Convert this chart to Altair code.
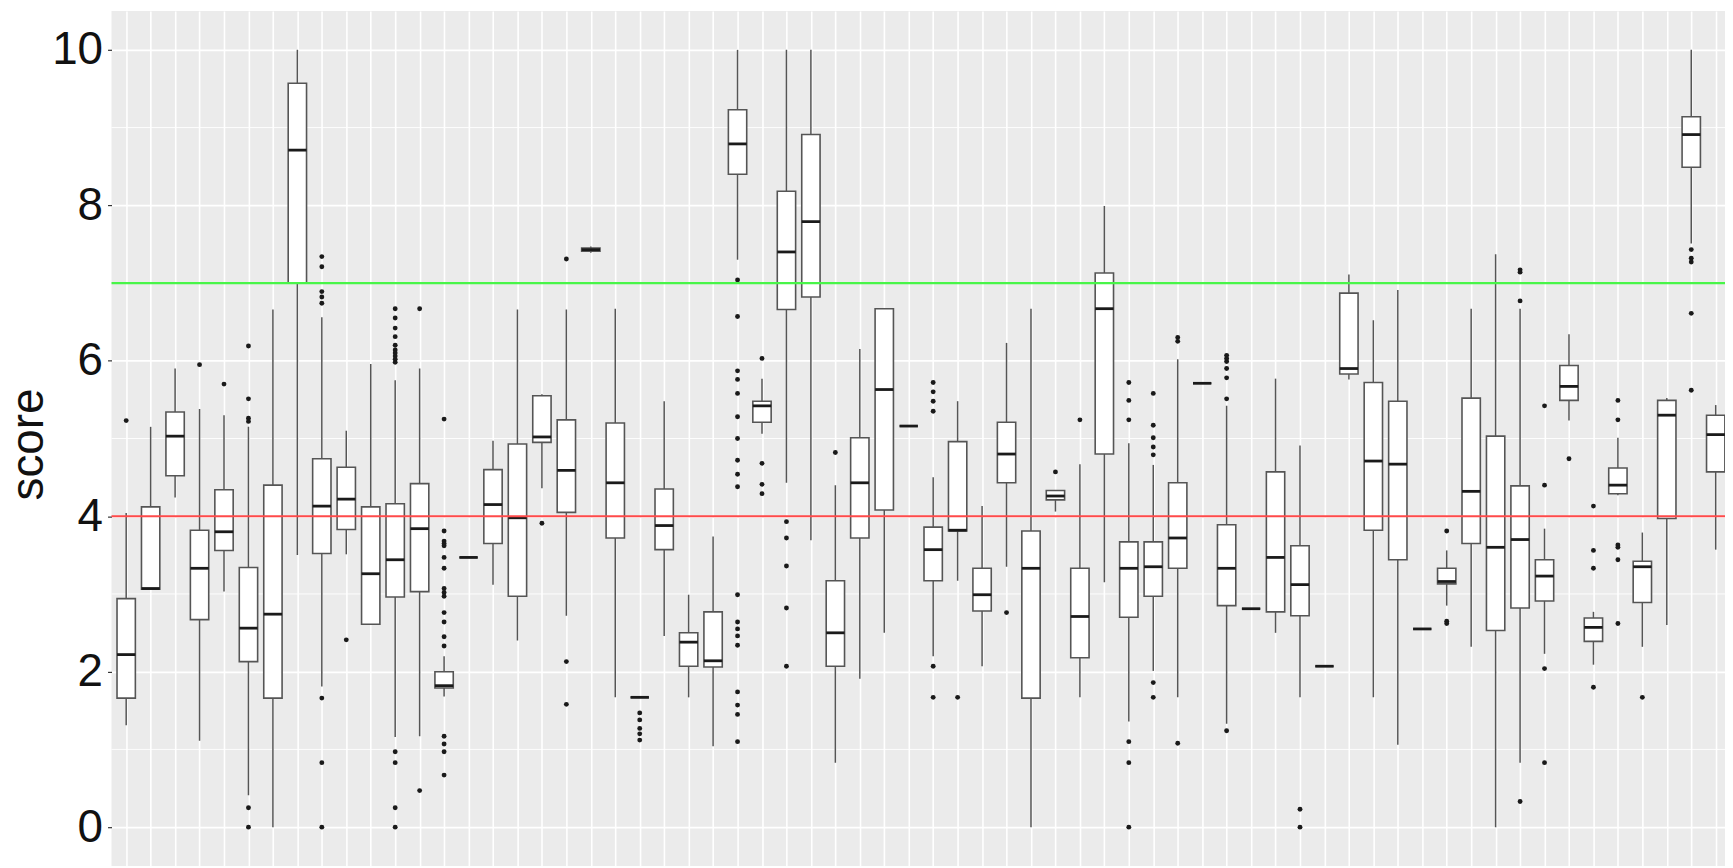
import altair as alt
import pandas as pd

# ---- data ----
groups = list(range(1, 67))

q1 = [1.66, 3.06, 4.52, 2.67, 3.56, 2.13, 1.66, 7.00, 3.52, 3.83,
      2.61, 2.96, 3.03, 1.79, 3.47, 3.65, 2.97, 4.95, 4.05, 7.41,
      3.72, 1.67, 3.57, 2.07, 2.06, 8.40, 5.21, 6.66, 6.82, 2.07,
      3.72, 4.08, 5.16, 3.17, 3.81, 2.78, 4.43, 1.66, 4.21, 2.18,
      4.80, 2.70, 2.97, 3.33, 5.71, 2.85, 2.81, 2.77, 2.72, 2.07,
      5.83, 3.82, 3.44, 2.55, 3.13, 3.65, 2.53, 2.82, 2.91, 5.49,
      2.39, 4.29, 2.89, 3.97, 8.49, 4.57]

median = [2.22, 3.07, 5.03, 3.33, 3.80, 2.56, 2.74, 8.71, 4.13, 4.22,
          3.26, 3.44, 3.84, 1.82, 3.47, 4.15, 3.98, 5.02, 4.59, 7.43,
          4.43, 1.67, 3.88, 2.38, 2.14, 8.79, 5.42, 7.40, 7.79, 2.50,
          4.43, 5.63, 5.16, 3.57, 3.82, 2.99, 4.80, 3.33, 4.26, 2.71,
          6.67, 3.33, 3.35, 3.72, 5.71, 3.33, 2.81, 3.47, 3.12, 2.07,
          5.90, 4.71, 4.67, 2.55, 3.16, 4.32, 3.60, 3.70, 3.23, 5.67,
          2.57, 4.40, 3.35, 5.30, 8.91, 5.05]

q3 = [2.94, 4.12, 5.34, 3.82, 4.34, 3.34, 4.40, 9.57, 4.74, 4.63,
      4.12, 4.16, 4.42, 2.00, 3.47, 4.60, 4.93, 5.55, 5.24, 7.45,
      5.20, 1.67, 4.35, 2.50, 2.77, 9.23, 5.48, 8.18, 8.91, 3.17,
      5.01, 6.67, 5.16, 3.86, 4.96, 3.33, 5.21, 3.81, 4.33, 3.33,
      7.13, 3.67, 3.67, 4.43, 5.71, 3.89, 2.81, 4.57, 3.62, 2.07,
      6.87, 5.72, 5.48, 2.55, 3.33, 5.52, 5.03, 4.39, 3.44, 5.94,
      2.69, 4.62, 3.42, 5.49, 9.14, 5.30]

whisker_low = [1.31, 3.06, 4.24, 1.11, 3.03, 0.41, 0.00, 3.50, 1.81, 3.51,
               2.61, 1.16, 1.17, 1.68, 3.47, 3.12, 2.40, 4.36, 2.72, 7.39,
               1.67, 1.67, 2.46, 1.67, 1.04, 7.30, 5.06, 4.43, 3.69, 0.83,
               1.91, 2.50, 5.16, 2.20, 3.17, 2.07, 3.35, 0.00, 4.06, 1.67,
               3.15, 1.36, 2.01, 1.67, 5.71, 1.33, 2.81, 2.50, 1.67, 2.07,
               5.76, 1.67, 1.06, 2.55, 2.85, 2.32, 0.00, 0.83, 2.23, 5.23,
               2.09, 4.27, 2.32, 2.60, 7.51, 3.57]

whisker_high = [4.04, 5.15, 5.90, 5.38, 5.30, 5.15, 6.66, 10.0, 6.56, 5.10,
                5.96, 5.75, 5.90, 2.20, 3.47, 4.97, 6.66, 5.57, 6.66, 7.47,
                6.67, 1.67, 5.48, 2.99, 3.74, 10.0, 5.77, 10.0, 10.0, 4.40,
                6.15, 6.67, 5.16, 4.50, 5.48, 4.13, 6.23, 6.67, 4.33, 4.67,
                7.99, 4.94, 4.66, 6.02, 5.71, 5.42, 2.81, 5.77, 4.91, 2.07,
                7.11, 6.52, 6.91, 2.55, 3.56, 6.67, 7.37, 6.67, 3.84, 6.34,
                2.77, 5.01, 3.79, 5.52, 10.0, 5.43]

outliers = {
    1: [5.23],
    4: [5.95],
    5: [5.70],
    6: [6.19, 5.51, 5.26, 5.22, 0.25, 0.00],
    9: [7.34, 7.21, 6.89, 6.82, 6.74, 1.66, 0.83, 0.00],
    10: [2.41],
    12: [6.67, 6.55, 6.42, 6.31, 6.20, 6.14, 6.10, 6.06, 6.02, 5.98,
         0.97, 0.83, 0.25, 0.00],
    13: [6.67, 0.47],
    14: [5.25, 3.81, 3.68, 3.65, 3.62, 3.47, 3.33, 3.07, 3.02, 2.97,
         2.76, 2.64, 2.45, 2.33, 1.17, 1.07, 0.97, 0.67],
    18: [3.91],
    19: [7.31, 2.13, 1.58],
    22: [1.47, 1.38, 1.27, 1.20, 1.12],
    26: [7.04, 6.57, 5.87, 5.76, 5.58, 5.28, 5.00, 4.72, 4.54, 4.38,
         2.99, 2.64, 2.55, 2.46, 2.34, 1.74, 1.57, 1.45, 1.10],
    27: [6.03, 4.68, 4.41, 4.29],
    28: [3.93, 3.72, 3.36, 2.82, 2.07],
    30: [4.82],
    34: [5.72, 5.60, 5.48, 5.35, 2.07, 1.67],
    35: [1.67],
    37: [2.76],
    39: [4.57],
    40: [5.24],
    42: [5.72, 5.49, 5.24, 1.10, 0.83, 0.00],
    43: [5.58, 5.17, 5.01, 4.89, 4.79, 1.86, 1.67],
    44: [6.30, 6.25, 1.08],
    46: [6.07, 6.03, 5.99, 5.90, 5.78, 5.51, 1.24],
    49: [0.23, 0.00],
    55: [3.81, 2.65, 2.62],
    58: [7.17, 7.14, 6.77, 0.33],
    59: [5.42, 4.40, 2.04, 0.83],
    60: [4.74],
    61: [4.13, 3.56, 3.33, 1.80],
    62: [5.49, 5.24, 3.63, 3.60, 3.44, 2.62],
    63: [1.67],
    65: [7.43, 7.32, 7.27, 6.61, 5.62],
}

reference_values = [4, 7]
reference_colors = ["#ff4a4a", "#48f548"]
y_ticks = [0, 2, 4, 6, 8, 10]
y_minor = [1, 3, 5, 7, 9]

# ---- tables ----
boxes = pd.DataFrame({
    "group": groups, "q1": q1, "median": median, "q3": q3,
    "lo": whisker_low, "hi": whisker_high,
})
out_df = pd.DataFrame(
    [{"group": g, "score": v} for g, vals in outliers.items() for v in vals]
)
ref_df = pd.DataFrame({"value": reference_values, "colour": reference_colors})
minor_df = pd.DataFrame({"value": y_minor})

FONT = "Liberation Sans"
half_w = 0.375

xscale = alt.Scale(domain=[0.4, 66.38], nice=False, zero=False)
yscale = alt.Scale(domain=[-0.5, 10.5], nice=False, zero=False)

xaxis = alt.Axis(values=groups, grid=True, gridColor="white", gridWidth=1.6,
                 labels=False, ticks=False, domain=False, title=None)
yaxis = alt.Axis(values=y_ticks, grid=True, gridColor="white", gridWidth=1.8,
                 ticks=True, tickColor="#333333", tickSize=4, tickWidth=1.2,
                 labelFont=FONT, labelFontSize=46, labelColor="#111111",
                 labelPadding=5, domain=False,
                 title="score", titleFont=FONT, titleFontSize=46,
                 titleFontWeight="normal", titleColor="#111111",
                 titleX=-69, titleY=435, titleAngle=270,
                 titleBaseline="alphabetic", titleAlign="center")

def X(field):
    return alt.X(field, type="quantitative", scale=xscale, axis=xaxis)

def Y(field):
    return alt.Y(field, type="quantitative", scale=yscale, axis=yaxis)

base = alt.Chart(boxes).transform_calculate(
    xl=f"datum.group - {half_w}", xr=f"datum.group + {half_w}"
)

minor = alt.Chart(minor_df).mark_rule(color="white", strokeWidth=0.9).encode(
    y=Y("value")
)

whiskers = base.mark_rule(color="#555555", strokeWidth=1.5).encode(
    x=X("group"), y=Y("lo"), y2="hi"
)

box = base.mark_bar(fill="white", stroke="#555555", strokeWidth=1.6,
                    cornerRadius=0).encode(
    x=X("xl"), x2="xr", y=Y("q1"), y2="q3"
)

med = base.mark_rule(color="#1a1a1a", strokeWidth=2.8).encode(
    x=X("xl"), x2="xr", y=Y("median")
)

pts = alt.Chart(out_df).mark_circle(color="#1a1a1a", size=24, opacity=1).encode(
    x=X("group"), y=Y("score")
)

refs = alt.Chart(ref_df).mark_rule(strokeWidth=2.2).encode(
    y=Y("value"), color=alt.Color("colour:N", scale=None)
)

chart = alt.layer(minor, whiskers, box, med, pts, refs).properties(
    width=1621, height=859,
    padding={"left": 104, "top": 1, "right": 0, "bottom": 0},
    autosize=alt.AutoSizeParams(type="none"),
).configure_view(fill="#EBEBEB", strokeWidth=0)

chart.save("out.html", embed_options={"renderer": "svg", "actions": False})
